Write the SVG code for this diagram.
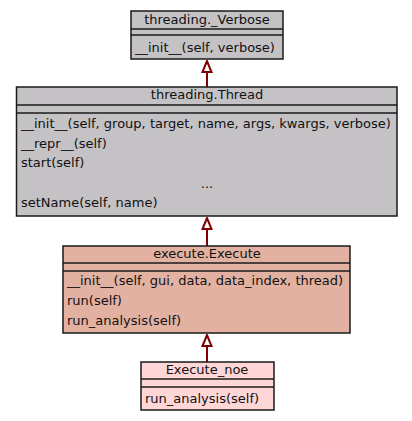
<svg xmlns="http://www.w3.org/2000/svg" width="412" height="421" viewBox="0 0 412 421">
<style>
text{font-family:"DejaVu Sans",sans-serif;font-size:13px;fill:#111}
.box rect{stroke:#1a1a1a;stroke-width:1.5}
.box line{stroke:#1a1a1a;stroke-width:1.5}
.gray{fill:#c4c2c5}
.ex{fill:#e3b1a2}
.noe{fill:#ffd6d6}
.t{text-anchor:middle}
.edge{stroke:#800000;stroke-width:2;fill:none}
</style>
<defs>
<marker id="inh" viewBox="0 0 14 12" refX="13" refY="6" markerWidth="14" markerHeight="12" markerUnits="userSpaceOnUse" orient="auto">
<path d="M13,6 L2,1.5 L2,10.5 Z" fill="#fff" stroke="#800000" stroke-width="2"/>
</marker>
</defs>
<rect width="412" height="421" fill="#fff"/>
<g id="edges">
<line class="edge" x1="207" y1="87" x2="207" y2="61" marker-end="url(#inh)"/>
<line class="edge" x1="207" y1="246" x2="207" y2="218" marker-end="url(#inh)"/>
<line class="edge" x1="207" y1="362" x2="207" y2="335" marker-end="url(#inh)"/>
</g>
<g id="verbose" class="box">
<rect class="gray" x="131" y="11" width="152" height="48"/>
<line x1="131" y1="29" x2="283" y2="29"/>
<line x1="131" y1="35" x2="283" y2="35"/>
<text class="t" x="207" y="24">threading._Verbose</text>
<text x="135" y="52">__init__(self, verbose)</text>
</g>
<g id="thread" class="box">
<rect class="gray" x="16.5" y="87" width="380.5" height="129"/>
<line x1="16.5" y1="105" x2="397" y2="105"/>
<line x1="16.5" y1="113" x2="397" y2="113"/>
<text class="t" x="207" y="99">threading.Thread</text>
<text x="21" y="128">__init__(self, group, target, name, args, kwargs, verbose)</text>
<text x="21" y="148">__repr__(self)</text>
<text x="21" y="167">start(self)</text>
<text class="t" x="207" y="188">...</text>
<text x="21" y="207">setName(self, name)</text>
</g>
<g id="execute" class="box">
<rect class="ex" x="63" y="246" width="287" height="87"/>
<line x1="63" y1="263" x2="350" y2="263"/>
<line x1="63" y1="271" x2="350" y2="271"/>
<text class="t" x="207" y="258">execute.Execute</text>
<text x="67" y="285">__init__(self, gui, data, data_index, thread)</text>
<text x="67" y="305">run(self)</text>
<text x="67" y="325">run_analysis(self)</text>
</g>
<g id="execute_noe" class="box">
<rect class="noe" x="141" y="362" width="133" height="48"/>
<line x1="141" y1="379" x2="274" y2="379"/>
<line x1="141" y1="387" x2="274" y2="387"/>
<text class="t" x="207" y="374">Execute_noe</text>
<text x="145" y="403">run_analysis(self)</text>
</g>
</svg>
